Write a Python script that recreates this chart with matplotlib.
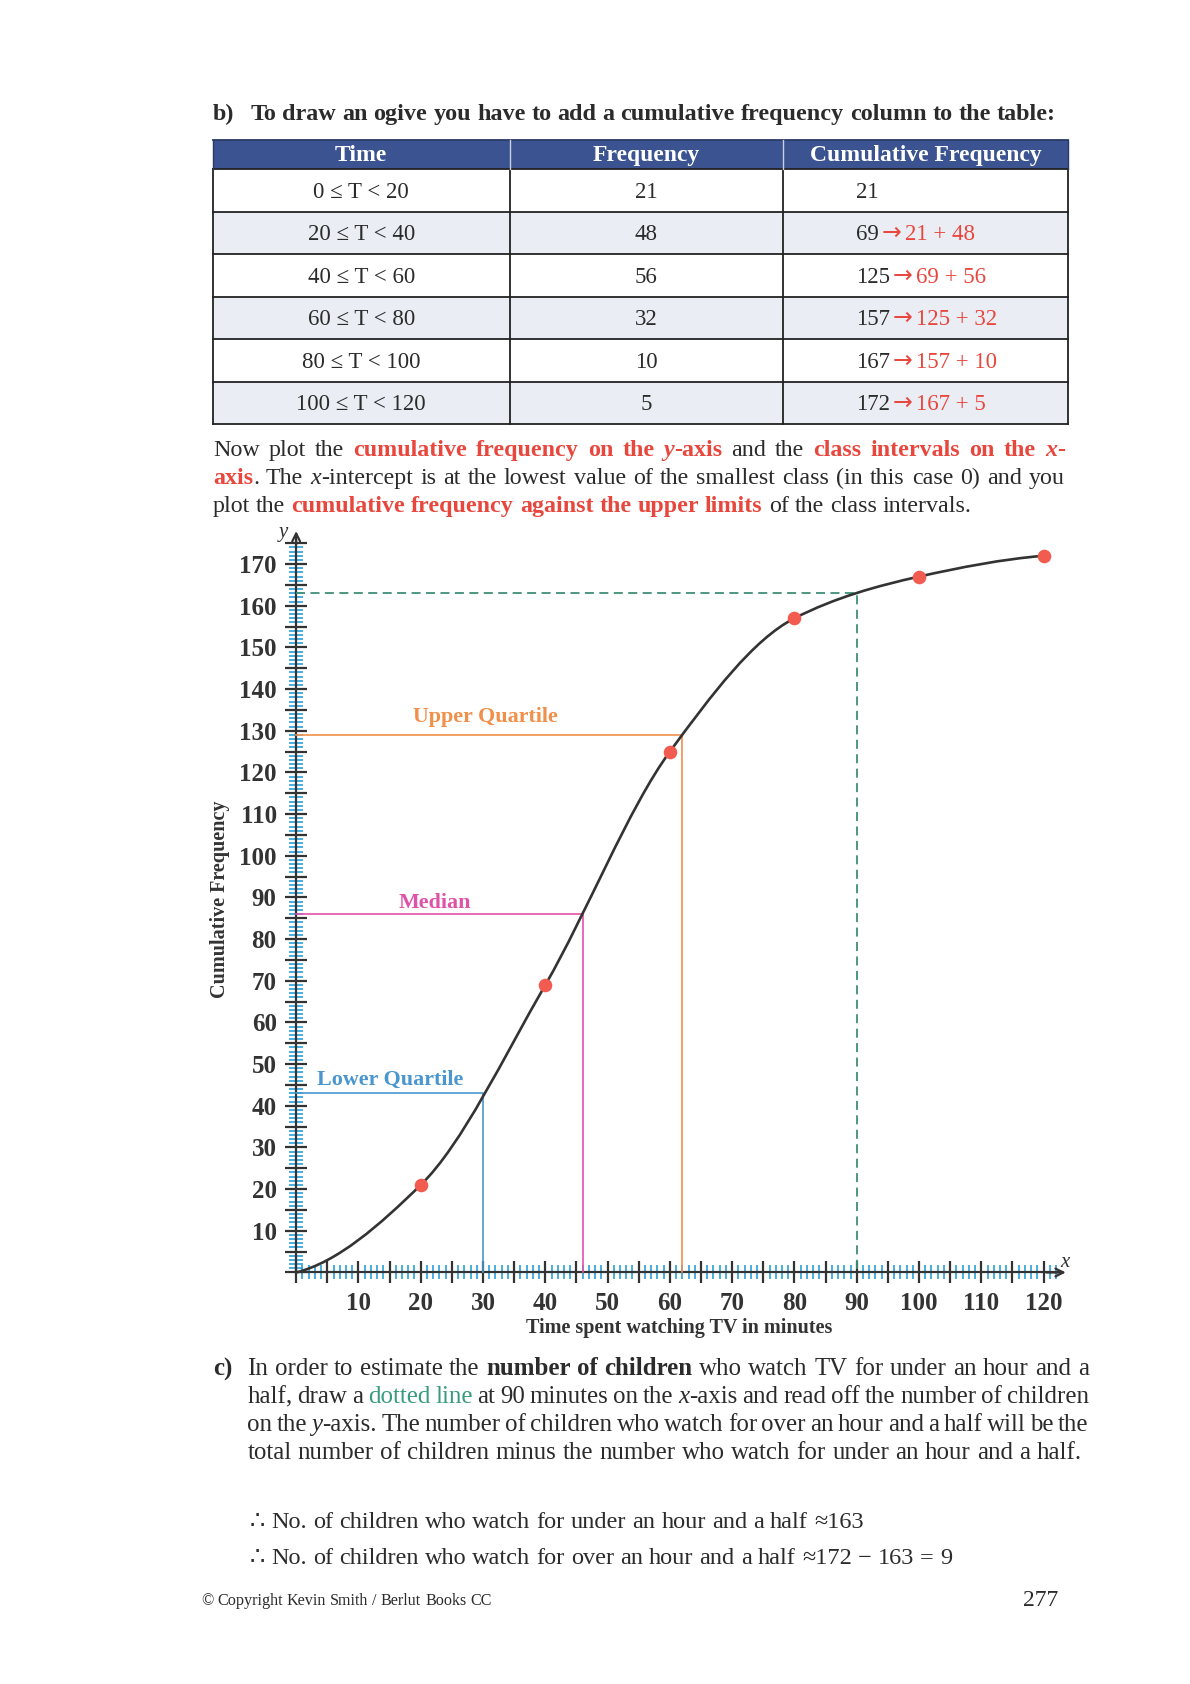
import matplotlib
matplotlib.use("Agg")
import matplotlib.pyplot as plt
import numpy as np
from matplotlib.path import Path
from matplotlib.patches import PathPatch, Rectangle

# ---- data ----
time_classes = ["0 ≤ T < 20", "20 ≤ T < 40", "40 ≤ T < 60", "60 ≤ T < 80", "80 ≤ T < 100", "100 ≤ T < 120"]
frequency = [21, 48, 56, 32, 10, 5]
header = ["Time", "Frequency", "Cumulative Frequency"]

upper_limits = [0, 20, 40, 60, 80, 100, 120]
cum_freq = [0, 21, 69, 125, 157, 167, 172]

quartile_names = ["Lower Quartile", "Median", "Upper Quartile"]
quartile_y = [43, 86, 129]
quartile_x = [30, 46, 62]
read_x, read_y = 90, 163

# ---- colours ----
INK = "#2b2b2b"
RED = "#e8473d"
NAVY = "#3b5491"
TICK_BLUE = "#2aa0da"
Q_COLORS = ["#4a97cf", "#e052a8", "#f0904a"]
GREEN = "#3f8f78"
GREEN_TXT = "#3a9a7c"
DOT_RED = "#f25b4f"
SERIF = ["Liberation Serif", "DejaVu Sans"]

plt.rcParams["font.family"] = SERIF

# page grid (units used for all the layout below)
PX0, PX1 = -1.0, 1100.8
PY0, PY1 = 3.0, 1566.6
fig = plt.figure(figsize=(11.9, 16.84), dpi=100)
page = fig.add_axes([0, 0, 1, 1])
page.set_xlim(PX0, PX1)
page.set_ylim(PY1, PY0)
page.axis("off")
renderer = fig.canvas.get_renderer()
UNIT = (PX1 - PX0) / 1190.0

N = {}
B = {"weight": "bold"}
I = {"style": "italic"}
R = {"color": RED, "weight": "bold"}
RI = {"color": RED, "weight": "bold", "style": "italic"}
G = {"color": GREEN_TXT}


def piece_width(txt, size, st):
    t = page.text(0, 0, txt, fontsize=size, fontweight=st.get("weight", "normal"),
                  fontstyle=st.get("style", "normal"), family=SERIF)
    w = t.get_window_extent(renderer=renderer).width * UNIT
    t.remove()
    return w


def split_words(segs):
    words = []
    new = True
    for txt, st in segs:
        parts = txt.split(" ")
        for i, p in enumerate(parts):
            if i > 0:
                new = True
            if p == "":
                continue
            if new or not words:
                words.append([])
                new = False
            words[-1].append((p, st))
    return words


def natural_width(segs, size):
    words = split_words(segs)
    sp = piece_width("a a", size, N) - piece_width("aa", size, N)
    return sum(piece_width(p, size, st) for w in words for p, st in w) + sp * (len(words) - 1)


def fit_size(segs, width, guess=17.0):
    return guess * width / natural_width(segs, guess)


def text_line(segs, x0, y, size, x1=None):
    words = split_words(segs)
    widths = [[piece_width(p, size, st) for p, st in w] for w in words]
    total = sum(sum(ws) for ws in widths)
    if x1 is not None and len(words) > 1:
        gap = (x1 - x0 - total) / (len(words) - 1)
    else:
        gap = piece_width("a a", size, N) - piece_width("aa", size, N)
    x = x0
    for w, ws in zip(words, widths):
        for (p, st), pw in zip(w, ws):
            page.text(x, y, p, fontsize=size, color=st.get("color", INK),
                      fontweight=st.get("weight", "normal"),
                      fontstyle=st.get("style", "normal"),
                      family=SERIF, ha="left", va="baseline")
            x += pw
        x += gap


# ---- heading ----
head = [("To draw an ogive you have to add a cumulative frequency column to the table:", B)]
hs = fit_size(head, 978 - 231)
page.text(196, 114, "b)", fontsize=hs, fontweight="bold", color=INK, va="baseline")
text_line(head, 231, 114, hs)

# ---- table ----
tx = [196, 471, 724, 988]
ty = [133, 160.2, 199.7, 239.1, 278.6, 318.1, 357.5, 397.0]
page.add_patch(Rectangle((tx[0], ty[0]), tx[-1] - tx[0], ty[1] - ty[0], color=NAVY, lw=0))
for r in range(len(time_classes)):
    if r % 2 == 1:
        page.add_patch(Rectangle((tx[0], ty[r + 1]), tx[-1] - tx[0], ty[r + 2] - ty[r + 1],
                                 color="#eaedf3", lw=0))
for yy in ty[1:]:
    page.plot([tx[0], tx[-1]], [yy, yy], color="#222222", lw=1.3)
page.plot([tx[0], tx[-1]], [ty[0], ty[0]], color="#2a3a66", lw=1.3)
for xx in tx:
    page.plot([xx, xx], [ty[1], ty[-1]], color="#222222", lw=1.3)
    page.plot([xx, xx], [ty[0], ty[1]],
              color="#c8cfe0" if xx not in (tx[0], tx[-1]) else "#2a3a66", lw=1.0)

for c, name in enumerate(header):
    page.text((tx[c] + tx[c + 1]) / 2, (ty[0] + ty[1]) / 2 + 1, name, fontsize=17,
              fontweight="bold", color="white", ha="center", va="center")

TS = 16.5
cum = np.cumsum(frequency)
for r, (tc, f) in enumerate(zip(time_classes, frequency)):
    yb = (ty[r + 1] + ty[r + 2]) / 2 + 6.5
    page.text((tx[0] + tx[1]) / 2, yb, tc, fontsize=TS, color=INK, ha="center", va="baseline")
    page.text((tx[1] + tx[2]) / 2, yb, str(f), fontsize=TS, color=INK, ha="center", va="baseline")
    page.text(792, yb, str(cum[r]), fontsize=TS, color=INK, ha="left", va="baseline")
    if r > 0:
        wnum = piece_width(str(cum[r]), TS, N)
        page.text(792 + wnum + 2, yb, "→", fontsize=17, color=RED, family=["DejaVu Sans"],
                  ha="left", va="baseline")
        page.text(792 + wnum + 24, yb, "%d + %d" % (cum[r - 1], f), fontsize=TS,
                  color=RED, ha="left", va="baseline")

# ---- paragraph ----
p_last = [("plot the ", N), ("cumulative frequency against the upper limits", R),
          (" of the class intervals.", N)]
PS = fit_size(p_last, 900 - 196)
text_line([("Now plot the ", N), ("cumulative frequency on the  ", R), ("y", RI), ("-axis", R),
           (" and the ", N), ("class intervals on the ", R), ("x", RI), ("-", R)],
          196, 426, PS, x1=985)
text_line([("axis", R), (". The ", N), ("x", I),
           ("-intercept is at the lowest value of the smallest class (in this case 0) and you", N)],
          196, 452, PS, x1=985)
text_line(p_last, 196, 478, PS)

# ---- ogive chart ----
x0p, xs = 273.2, 5.767     # page position of x = 0 and units per minute
y0p, ys = 1184.5, 3.869    # page position of y = 0 and units per child
xl = (-2, 126)
yl = (-2, 182)
left, right = x0p + xl[0] * xs, x0p + xl[1] * xs
bottom, top = y0p - yl[0] * ys, y0p - yl[1] * ys


def fx(p):
    return (p - PX0) / (PX1 - PX0)


def fy(p):
    return 1 - (p - PY0) / (PY1 - PY0)


ax = fig.add_axes([fx(left), fy(bottom), fx(right) - fx(left), fy(top) - fy(bottom)])
ax.set_xlim(xl)
ax.set_ylim(yl)
ax.patch.set_alpha(0)
ax.spines["top"].set_visible(False)
ax.spines["right"].set_visible(False)
ax.spines["left"].set_position(("data", 0))
ax.spines["bottom"].set_position(("data", 0))
ax.spines["left"].set_bounds(0, 177)
ax.spines["bottom"].set_bounds(0, 123)
for s in ("left", "bottom"):
    ax.spines[s].set_color("#333333")
    ax.spines[s].set_linewidth(1.6)

x_major = np.arange(0, 121, 5)
y_major = np.arange(0, 176, 5)
lab = lambda v: str(int(v)) if v % 10 == 0 and v > 0 else ""
ax.set_xticks(x_major, labels=[lab(v) for v in x_major], fontsize=18,
              fontweight="bold", color="#333333")
ax.set_yticks(y_major, labels=[lab(v) for v in y_major], fontsize=18,
              fontweight="bold", color="#333333")
ax.set_xticks(np.arange(1, 123, 1), minor=True)
ax.set_yticks(np.arange(1, 176, 1), minor=True)
ax.tick_params(which="major", direction="inout", length=16, width=1.6,
               color="#333333", pad=6)
ax.tick_params(which="minor", direction="inout", length=10, width=1.2, color=TICK_BLUE)

ax.annotate("", xy=(0, 178.6), xytext=(0, 174), annotation_clip=False,
            arrowprops=dict(arrowstyle="->", color="#333333", lw=1.6, mutation_scale=14))
ax.annotate("", xy=(124, 0), xytext=(120, 0), annotation_clip=False,
            arrowprops=dict(arrowstyle="->", color="#333333", lw=1.6, mutation_scale=14))

# smooth ogive: monotone cubic (PCHIP tangents) drawn as a Bezier path
xp = np.array(upper_limits, float)
yp = np.array(cum_freq, float)
h = np.diff(xp)
d = np.diff(yp) / h
m = np.zeros_like(xp)
for i in range(1, len(xp) - 1):
    if d[i - 1] * d[i] > 0:
        w1, w2 = 2 * h[i] + h[i - 1], h[i] + 2 * h[i - 1]
        m[i] = (w1 + w2) / (w1 / d[i - 1] + w2 / d[i])
m[0] = ((2 * h[0] + h[1]) * d[0] - h[0] * d[1]) / (h[0] + h[1])
m[-1] = ((2 * h[-1] + h[-2]) * d[-1] - h[-1] * d[-2]) / (h[-1] + h[-2])
verts = [(xp[0], yp[0])]
codes = [Path.MOVETO]
for i in range(len(xp) - 1):
    verts += [(xp[i] + h[i] / 3, yp[i] + m[i] * h[i] / 3),
              (xp[i + 1] - h[i] / 3, yp[i + 1] - m[i + 1] * h[i] / 3),
              (xp[i + 1], yp[i + 1])]
    codes += [Path.CURVE4] * 3
ax.add_patch(PathPatch(Path(verts, codes), fill=False, lw=1.9, ec="#333333",
                       capstyle="round", zorder=4))
ax.plot(upper_limits[1:], cum_freq[1:], "o", ms=9.8, color=DOT_RED, mec="none", zorder=5)

label_x = [15.1, 22.3, 30.4]
label_dy = [3.3, 2.6, 4.2]
for name, qx, qy, col, lx, dy in zip(quartile_names, quartile_x, quartile_y, Q_COLORS,
                                     label_x, label_dy):
    ax.plot([0, qx, qx], [qy, qy, 0], color=col, lw=1.2, zorder=3)
    ax.text(lx, qy + dy, name, color=col, fontsize=15.8, fontweight="bold",
            ha="center", va="center")

ax.plot([0, read_x, read_x], [read_y, read_y, 0], color=GREEN, lw=1.3,
        dashes=(5, 3), zorder=3)

page.text(261, 497, "y", fontsize=15, fontstyle="italic", color="#333333", ha="center", va="center")
page.text(985, 1175, "x", fontsize=15, fontstyle="italic", color="#333333", ha="center", va="center")
page.text(628, 1236, "Time spent watching TV in minutes", fontsize=14.5, fontweight="bold",
          color="#333333", ha="center", va="center")
page.text(203, 838, "Cumulative Frequency", fontsize=14.5, fontweight="bold", rotation=90,
          color="#333333", ha="center", va="center")

# ---- part c ----
c_last = [("total number of children minus the number who watch for under an hour and a half.", N)]
CS = fit_size(c_last, 1000 - 228)
page.text(196, 1280, "c)", fontsize=CS, fontweight="bold", color=INK, va="baseline")
text_line([("In order to estimate the ", N), ("number of children", B),
           (" who watch TV for under an hour and a", N)], 228, 1280, CS, x1=1007)
text_line([("half, draw a ", N), ("dotted line", G), (" at 90 minutes on the ", N), ("x", I),
           ("-axis and read off the number of children", N)], 228, 1306, CS, x1=1007)
text_line([("on the ", N), ("y", I),
           ("-axis. The number of children who watch for over an hour and a half will be the", N)],
          228, 1332, CS, x1=1007)
text_line(c_last, 228, 1358, CS)

concl1 = [("∴ No. of children who watch for under an hour and a half ≈%d" % read_y, N)]
KS = fit_size(concl1, 797 - 230)
text_line(concl1, 230, 1422, KS)
text_line([("∴ No. of children who watch for over an hour and a half ≈%d − %d = %d"
            % (cum_freq[-1], read_y, cum_freq[-1] - read_y), N)], 230, 1455, KS)

# ---- footer ----
foot = [("© Copyright Kevin Smith / Berlut Books CC", N)]
text_line(foot, 185, 1493, fit_size(foot, 454 - 185, 11))
page.text(946, 1494, "277", fontsize=17, color=INK, va="baseline")

fig.savefig("out.png", dpi=100)
